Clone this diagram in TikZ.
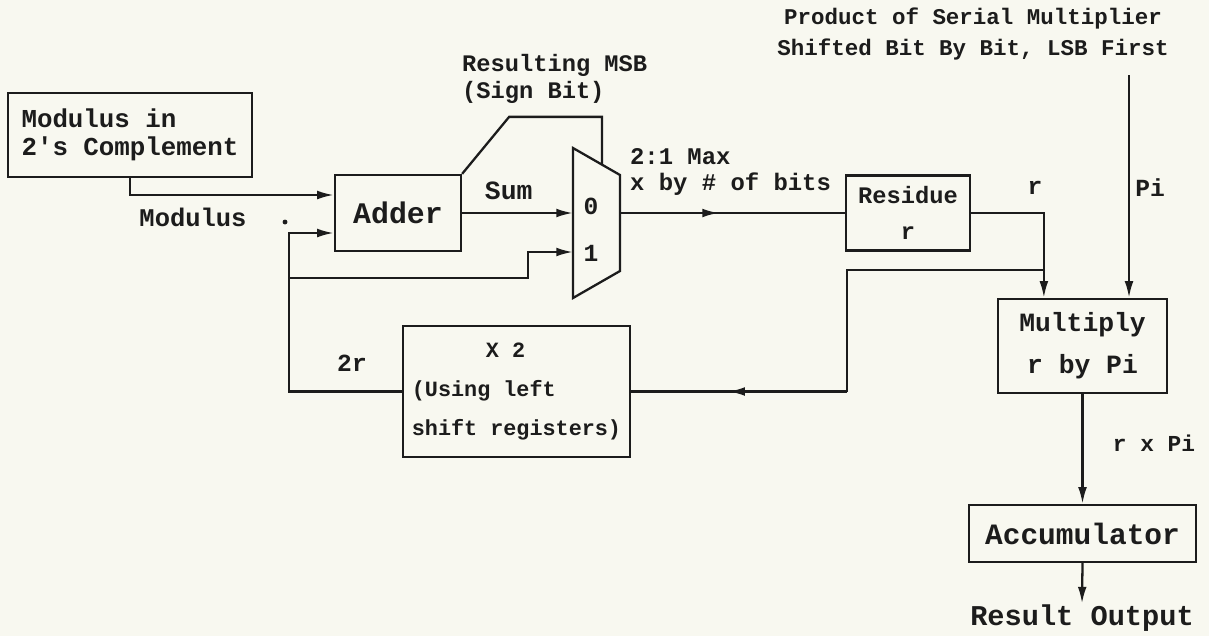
\documentclass[tikz,border=0pt]{standalone}
\usepackage{fontspec}
\setmainfont{Liberation Mono}
\usepackage{xcolor}
\usepackage{tikz}
\usetikzlibrary{arrows.meta, calc, decorations.markings}

\definecolor{paper}{RGB}{248,248,240}
\definecolor{ink}{RGB}{28,28,28}

\begin{document}
\begin{tikzpicture}[x=0.02cm, y=-0.02cm, color=ink, line width=1.3pt,
    >={Latex[length=9.5pt,width=5pt]},
    fs/.style 2 args={font=\bfseries\fontsize{#1}{#2}\selectfont},
    blk/.style={draw, line width=1.3pt, inner sep=0pt, align=center},
    txt/.style={inner sep=0pt},
    midarrow/.style={postaction={decorate}, decoration={markings,
        mark=at position #1 with {\arrow{Latex[length=9.5pt,width=5pt]}}}},
    midarrow/.default=0.5]

    % Paper
    \fill[paper] (0,0) rectangle (1209,636);

    % Blocks
    \node[blk, fs={14.7}{16}, align=left, minimum width=4.88cm, minimum height=1.68cm] (mod) at (130,135) {Modulus in\\2\textquotesingle s Complement};
    \node[blk, fs={17}{20}, minimum width=2.52cm, minimum height=1.52cm] (adder) at (398,213) {Adder};
    \node[blk, fs={13.5}{20.5}, minimum width=2.48cm, minimum height=1.5cm] (residue) at (908,213) {Residue\\r};
    \node[blk, fs={12.4}{22}, align=left, minimum width=4.54cm, minimum height=2.62cm] (times2) at (516.5,391.5) {\hspace*{3.4em}X 2\\(Using left\\shift registers)};
    \node[blk, fs={15}{24}, minimum width=3.38cm, minimum height=1.88cm] (multiply) at (1082.5,346) {Multiply\\r by Pi};
    \node[blk, fs={16.8}{20}, minimum width=4.54cm, minimum height=1.14cm] (accum) at (1082.5,533.5) {Accumulator};
    \node[txt, fs={16.3}{20}] (result) at (1082,618) {Result Output};

    % 2:1 multiplexer
    \coordinate (mux1) at (573,148);
    \coordinate (mux2) at (620,175);
    \coordinate (mux3) at (620,271);
    \coordinate (mux4) at (573,298);
    \draw (mux1) -- (mux2) -- (mux3) -- (mux4) -- cycle;
    \coordinate (in0) at (573,213);
    \coordinate (in1) at (573,252);
    \coordinate (muxout) at (620,213);
    \coordinate (msbin) at (602,164.5);
    \node[txt, fs={14}{16}] (sel0) at (591,206) {0};
    \node[txt, fs={14}{16}] (sel1) at (591,253) {1};

    % Modulus and sum into the mux
    \draw[->] (mod.south) |- ($(adder.west)+(0,-18)$);
    \draw[->] (adder.east) -- node[txt, fs={15}{18}, above=7pt, pos=0.42] (sumlbl) {Sum} (in0);
    \draw (adder.north east) -- ++(47,-57) -| (msbin);

    % Feedback of 2r
    \coordinate (fbsplit) at (290,278);
    \draw[->] (times2.west) -| ($(adder.west)+(-45,20)$) -- ($(adder.west)+(0,20)$);
    \draw[->] (fbsplit) -| ($(in1)+(-45,0)$) -- (in1);

    % Residue and multiply
    \draw[midarrow=0.44] (muxout) -- (residue.west);
    \draw[->] (residue.east) -| ($(multiply.north west)+(47,0)$);
    \coordinate (rsplit) at (1045,270);
    \coordinate (fbright) at (847,391.5);
    \draw (rsplit) -| (fbright);
    \draw[midarrow=0.55] (fbright) -- (times2.east);
    \coordinate (pitop) at (1129,75);
    \draw[->] (pitop) -- (pitop |- multiply.north);
    \draw[->] (multiply.south) -- (accum.north);
    \draw[->] (accum.south) -- (result.north);

    % Labels
    \node[txt, fs={14.5}{16}] (modlbl) at (193,217) {Modulus};
    \fill (285,222) circle (1.4pt);
    \node[txt, fs={13.5}{15.4}, anchor=west, align=left] (msblbl) at (461,78.5) {Resulting MSB\\(Sign Bit)};
    \node[txt, fs={13.6}{14.4}, anchor=west, align=left] (muxlbl) at (629,172) {2:1 Max\\x by \# of bits};
    \node[txt, fs={14}{16}] (rlbl) at (1035,188) {r};
    \node[txt, fs={14}{16}] (pilbl) at (1150,188) {Pi};
    \node[txt, fs={14}{16}] (tworlbl) at (352,363) {2r};
    \node[txt, fs={13}{16}] (rpilbl) at (1154,443) {r x Pi};
    \node[txt, fs={12.8}{18}, align=center] (toplbl) at (973,34) {Product of Serial Multiplier\\Shifted Bit By Bit, LSB First};
\end{tikzpicture}
\end{document}
